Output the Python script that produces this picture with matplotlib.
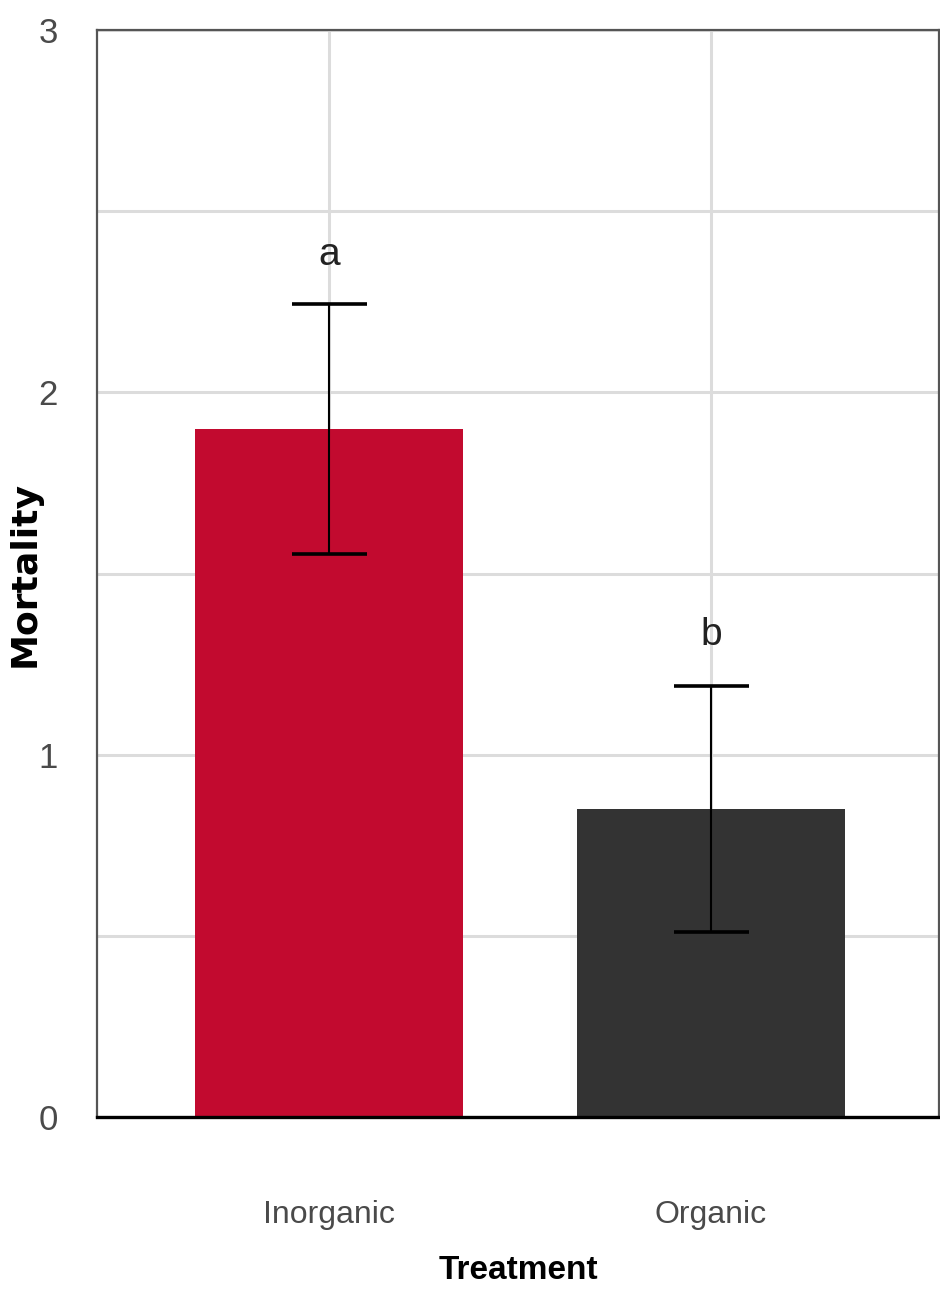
import numpy as np
import matplotlib.pyplot as plt
from matplotlib.ticker import MultipleLocator

# data
tratamientos = ['Inorganic', 'Organic']
mortalidad = [1.90, 0.85]
error_std = [0.345, 0.34]
letras = ['a', 'b']
letras_y = [2.38, 1.33]
colores = ['#C20A2F', '#333333']

plt.rcParams['font.family'] = ['Liberation Sans', 'DejaVu Sans']

fig = plt.figure(figsize=(9.4, 12.93), dpi=100)
ax = fig.add_axes([0.1032, 0.1361, 0.8958, 0.8407])

x = np.arange(len(tratamientos))
ax.bar(x, mortalidad, width=0.70, color=colores, zorder=2)
ax.errorbar(x, mortalidad, yerr=error_std, fmt='none', ecolor='black',
            elinewidth=1.5, capsize=27, capthick=2.6, zorder=3)

for xi, letra, yl in zip(x, letras, letras_y):
    ax.text(xi, yl, letra, ha='center', va='center', fontsize=28, color='#222222')

ax.set_xlim(-0.607, 1.597)
ax.set_ylim(0, 3)
ax.set_xticks(x)
ax.set_xticklabels(tratamientos)
ax.yaxis.set_major_locator(MultipleLocator(1))
ax.yaxis.set_minor_locator(MultipleLocator(0.5))

ax.grid(True, which='both', axis='y', color='#dcdcdc', lw=2.2, zorder=0)
ax.grid(True, which='major', axis='x', color='#dcdcdc', lw=2.2, zorder=0)
ax.set_axisbelow(True)

ax.tick_params(axis='both', which='both', length=0)
ax.tick_params(axis='y', labelsize=25, pad=28, labelcolor='#4a4a4a')
ax.tick_params(axis='x', labelsize=23, pad=60, labelcolor='#4a4a4a')

for lado in ['left', 'top', 'right']:
    ax.spines[lado].set_color('#555555')
    ax.spines[lado].set_linewidth(1.6)
ax.spines['bottom'].set_color('black')
ax.spines['bottom'].set_linewidth(2.4)

ax.set_ylabel('Mortality', fontsize=26, fontweight='bold', family='DejaVu Sans')
ax.yaxis.set_label_coords(-0.066, 0.5)
ax.set_xlabel('Treatment', fontsize=24, fontweight='bold')
ax.xaxis.set_label_coords(0.501, -0.127)

plt.savefig('out.png', dpi=100)
